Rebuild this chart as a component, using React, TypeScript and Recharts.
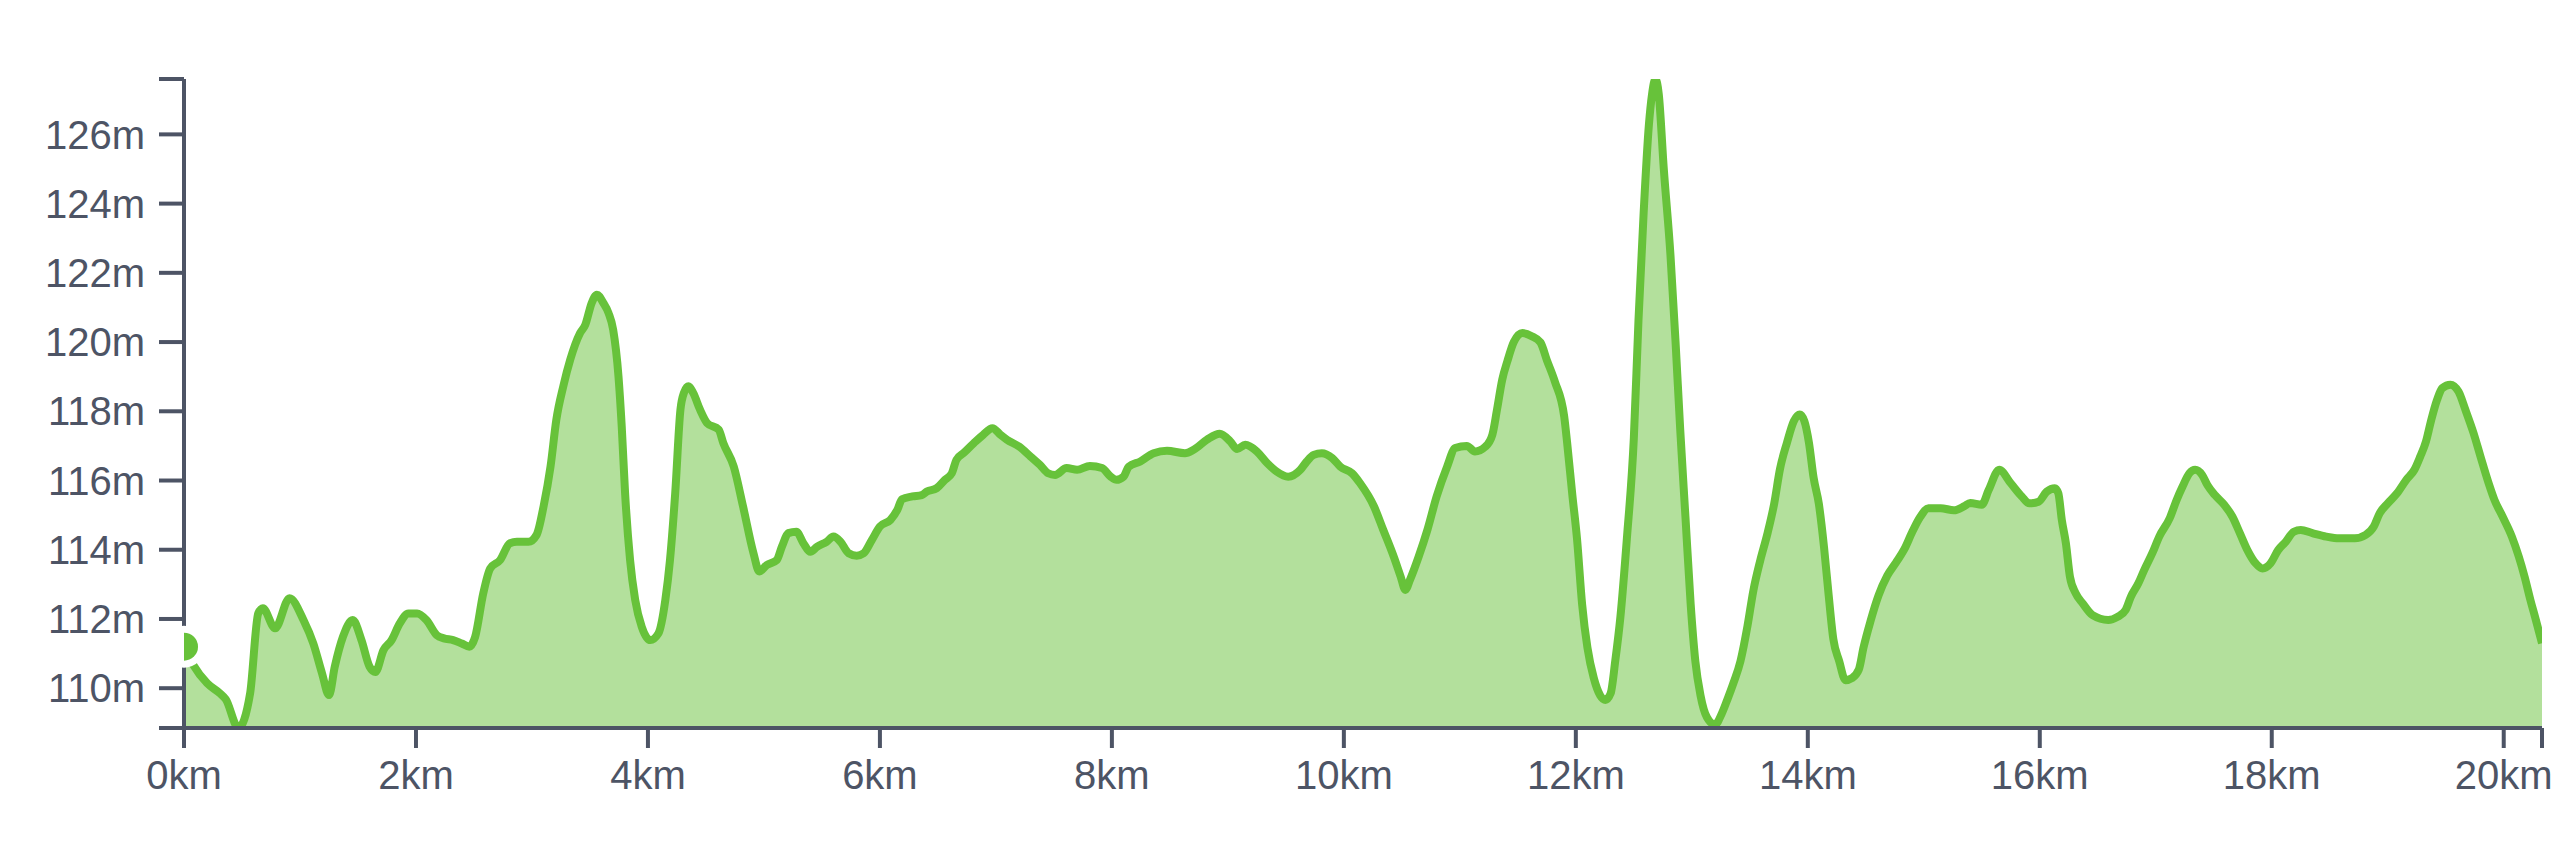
import React from 'react';
import { AreaChart, Area, XAxis, YAxis, ReferenceDot } from 'recharts';

const distanceKm = [
  0, 0.08, 0.2, 0.31, 0.36, 0.47, 0.57, 0.64, 0.68, 0.785, 0.91, 1.03, 1.115, 1.19, 1.25, 1.3, 1.37, 1.455, 1.53, 1.6,
  1.65, 1.72, 1.79, 1.86, 1.935, 2.01, 2.09, 2.18, 2.24, 2.32, 2.395, 2.46, 2.51, 2.58, 2.64, 2.725, 2.81, 2.87, 2.97, 3.04,
  3.1, 3.16, 3.21, 3.27, 3.33, 3.415, 3.46, 3.515, 3.56, 3.615, 3.66, 3.7, 3.746, 3.774, 3.803, 3.846, 3.89, 3.947, 4.02, 4.09,
  4.15, 4.19, 4.235, 4.28, 4.31, 4.35, 4.39, 4.45, 4.51, 4.61, 4.65, 4.74, 4.82, 4.91, 4.96, 5.025, 5.11, 5.155, 5.21, 5.28,
  5.34, 5.4, 5.46, 5.54, 5.6, 5.66, 5.73, 5.8, 5.86, 5.93, 6.0, 6.09, 6.15, 6.19, 6.28, 6.36, 6.405, 6.49, 6.56, 6.62,
  6.66, 6.72, 6.81, 6.89, 6.97, 7.04, 7.095, 7.2, 7.3, 7.38, 7.45, 7.51, 7.61, 7.7, 7.81, 7.915, 7.99, 8.04, 8.1, 8.145,
  8.245, 8.36, 8.475, 8.63, 8.705, 8.82, 8.93, 9.02, 9.08, 9.15, 9.25, 9.34, 9.42, 9.52, 9.625, 9.68, 9.74, 9.81, 9.9, 9.97,
  10.07, 10.14, 10.26, 10.34, 10.43, 10.49, 10.53, 10.57, 10.645, 10.72, 10.8, 10.89, 10.96, 11.06, 11.13, 11.22, 11.28, 11.32, 11.365, 11.41,
  11.465, 11.54, 11.62, 11.695, 11.75, 11.82, 11.9, 11.925, 11.97, 12.01, 12.054, 12.1, 12.155, 12.21, 12.255, 12.3, 12.34, 12.384, 12.44, 12.5,
  12.54, 12.585, 12.63, 12.657, 12.686, 12.715, 12.758, 12.816, 12.86, 12.9, 12.945, 12.99, 13.03, 13.075, 13.13, 13.2, 13.26, 13.305, 13.36, 13.42,
  13.48, 13.53, 13.59, 13.65, 13.71, 13.76, 13.82, 13.88, 13.93, 13.97, 14.01, 14.05, 14.095, 14.14, 14.18, 14.22, 14.27, 14.325, 14.38, 14.44,
  14.48, 14.54, 14.61, 14.685, 14.76, 14.83, 14.9, 14.97, 15.04, 15.145, 15.26, 15.35, 15.4, 15.5, 15.56, 15.65, 15.75, 15.845, 15.91, 15.99,
  16.06, 16.13, 16.16, 16.19, 16.225, 16.26, 16.31, 16.37, 16.455, 16.59, 16.67, 16.74, 16.785, 16.85, 16.9, 16.97, 17.03, 17.12, 17.18, 17.23,
  17.29, 17.34, 17.4, 17.445, 17.51, 17.59, 17.66, 17.725, 17.79, 17.86, 17.92, 17.99, 18.055, 18.12, 18.19, 18.25, 18.35, 18.47, 18.58, 18.715,
  18.81, 18.88, 18.93, 19.0, 19.08, 19.16, 19.23, 19.28, 19.33, 19.375, 19.425, 19.47, 19.54, 19.61, 19.67, 19.74, 19.8, 19.87, 19.92, 19.99,
  20.07, 20.13, 20.18, 20.23, 20.27, 20.33,
];

const elevationM = [
  111.2, 110.67, 110.14, 109.85, 109.68, 108.85, 109.85, 112.16, 112.31, 111.73, 112.6, 111.97, 111.29, 110.43, 109.8, 110.62, 111.48, 111.97, 111.39, 110.62,
  110.47, 111.1, 111.39, 111.87, 112.16, 112.16, 111.97, 111.53, 111.44, 111.39, 111.29, 111.2, 111.48, 112.74, 113.46, 113.7, 114.19, 114.23, 114.23, 114.43,
  115.25, 116.4, 117.75, 118.72, 119.49, 120.26, 120.5, 121.13, 121.37, 121.13, 120.84, 120.36, 119.01, 117.56, 115.63, 113.7, 112.55, 111.77, 111.39, 111.58,
  112.55, 113.7, 115.63, 118.04, 118.53, 118.72, 118.53, 118.04, 117.66, 117.47, 117.08, 116.4, 115.25, 113.9, 113.37, 113.56, 113.7, 114.09, 114.48, 114.52,
  114.19, 113.94, 114.09, 114.23, 114.38, 114.23, 113.9, 113.83, 113.9, 114.28, 114.67, 114.86, 115.15, 115.46, 115.54, 115.58, 115.68, 115.78, 116.02, 116.21,
  116.6, 116.79, 117.08, 117.32, 117.51, 117.32, 117.18, 116.98, 116.69, 116.45, 116.21, 116.16, 116.36, 116.31, 116.42, 116.36, 116.11, 116.02, 116.11, 116.4,
  116.55, 116.79, 116.86, 116.79, 116.89, 117.18, 117.35, 117.13, 116.91, 117.03, 116.84, 116.5, 116.26, 116.11, 116.31, 116.55, 116.74, 116.79, 116.65, 116.4,
  116.21, 115.92, 115.25, 114.57, 113.8, 113.22, 112.84, 113.13, 113.8, 114.57, 115.54, 116.4, 116.94, 117.0, 116.84, 116.98, 117.32, 118.04, 118.91, 119.45,
  120.0, 120.26, 120.17, 119.99, 119.48, 118.85, 117.84, 117.09, 115.58, 114.32, 112.43, 111.17, 110.29, 109.79, 109.66, 109.85, 110.79, 112.05, 114.32, 117.22,
  120.62, 123.76, 126.28, 127.16, 127.6, 127.16, 125.02, 122.51, 119.99, 117.47, 114.95, 112.43, 110.79, 109.79, 109.16, 108.95, 109.28, 109.66, 110.16, 110.79,
  111.8, 112.81, 113.69, 114.44, 115.33, 116.33, 117.09, 117.72, 117.91, 117.72, 117.09, 116.08, 115.33, 114.07, 112.68, 111.42, 110.79, 110.23, 110.29, 110.54,
  111.17, 111.93, 112.68, 113.25, 113.63, 114.0, 114.51, 114.95, 115.2, 115.2, 115.14, 115.26, 115.35, 115.3, 115.73, 116.31, 115.92, 115.54, 115.34, 115.39,
  115.68, 115.78, 115.63, 114.86, 114.19, 113.22, 112.74, 112.45, 112.11, 111.97, 112.06, 112.26, 112.64, 113.03, 113.41, 113.9, 114.38, 114.91, 115.44, 115.82,
  116.21, 116.31, 116.16, 115.87, 115.58, 115.3, 114.96, 114.48, 113.99, 113.61, 113.46, 113.61, 113.99, 114.23, 114.52, 114.57, 114.48, 114.38, 114.33, 114.33,
  114.43, 114.67, 115.05, 115.34, 115.63, 116.02, 116.31, 116.69, 117.13, 117.75, 118.33, 118.67, 118.77, 118.57, 118.04, 117.37, 116.69, 115.92, 115.44, 114.96,
  114.38, 113.8, 113.22, 112.55, 112.06, 111.3,
];

const xTickValues = [0, 2, 4, 6, 8, 10, 12, 14, 16, 18, 20];
const yTickValues = [110, 112, 114, 116, 118, 120, 122, 124, 126];

const markerKm = 0;
const markerElevation = 111.2;

const data = distanceKm.map((km, i) => ({ km, ele: elevationM[i] }));

const minEle = Math.min(...elevationM);
const maxEle = Math.max(...elevationM);
const maxKm = distanceKm[distanceKm.length - 1];

const GREEN = '#67c23a';
const AXIS = '#4d5465';
const FONT = '"Liberation Sans", Arial, Helvetica, sans-serif';

export default function App() {
  return (
    <div style={{ position: 'absolute', left: 0, top: 0, width: 2560, height: 863, background: '#fff' }}>
      <AreaChart width={2560} height={863} data={data} margin={{ top: 79, right: 18, bottom: 0, left: 0 }}>
        <XAxis
          type="number"
          dataKey="km"
          domain={[0, maxKm]}
          ticks={[...xTickValues, maxKm]}
          interval={0}
          tickFormatter={(v: number) => (xTickValues.includes(v) ? `${v}km` : '')}
          height={135}
          tickSize={20}
          tickMargin={13}
          axisLine={{ stroke: AXIS, strokeWidth: 4 }}
          tickLine={{ stroke: AXIS, strokeWidth: 4 }}
          tick={{ fill: AXIS, fontSize: 40, fontFamily: FONT }}
          allowDataOverflow
        />
        <YAxis
          type="number"
          domain={[minEle, maxEle]}
          ticks={[minEle, ...yTickValues, maxEle]}
          interval={0}
          tickFormatter={(v: number) => (yTickValues.includes(v) ? `${v}m` : '')}
          width={184}
          tickSize={25}
          tickMargin={14}
          axisLine={{ stroke: AXIS, strokeWidth: 4 }}
          tickLine={{ stroke: AXIS, strokeWidth: 4 }}
          tick={{ fill: AXIS, fontSize: 40, fontFamily: FONT }}
          allowDataOverflow
        />
        <Area
          type="monotone"
          dataKey="ele"
          stroke={GREEN}
          strokeWidth={8}
          strokeLinejoin="round"
          fill={GREEN}
          fillOpacity={0.5}
          isAnimationActive={false}
          dot={false}
          activeDot={false}
        />
        <ReferenceDot x={markerKm} y={markerElevation} r={21} fill="#ffffff" stroke="none" ifOverflow="visible" zIndex={1500} />
        <ReferenceDot x={markerKm} y={markerElevation} r={14} fill={GREEN} stroke="none" ifOverflow="hidden" zIndex={1600} />
      </AreaChart>
    </div>
  );
}
